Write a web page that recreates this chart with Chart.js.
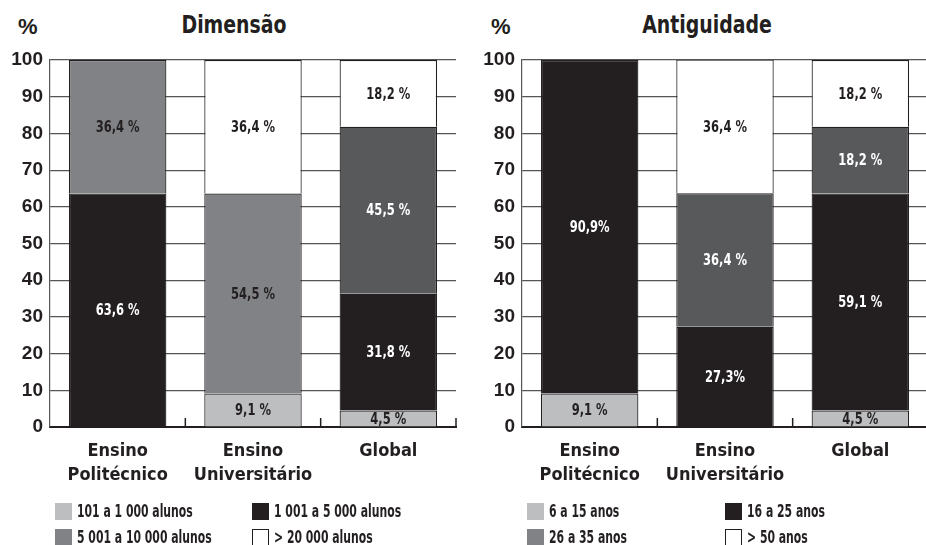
<!DOCTYPE html>
<html lang="pt">
<head>
<meta charset="UTF-8">
<title>Dimensão e Antiguidade</title>
<script src="https://cdn.jsdelivr.net/npm/chart.js"></script>
<style>
    body { margin: 0; width: 926px; height: 545px; overflow: hidden; background: #fff; position: relative; }
    canvas { position: absolute; top: 0; }
    .txt { position: absolute; color: #231f20; font-weight: bold; white-space: nowrap; }
    .pct { font-family: 'Liberation Sans', Arial, sans-serif; font-size: 22px; line-height: 22px; top: 16px; }
    .title { font-family: 'DejaVu Sans Condensed', sans-serif; font-size: 25px; line-height: 25px; top: 12px; transform: translateX(-50%) scaleX(0.84); }
    .leg { position: absolute; font-family: 'DejaVu Sans Condensed', sans-serif; font-weight: bold; font-size: 17px; line-height: 17px; color: #231f20; white-space: nowrap; }
    .leg span.box { display: inline-block; width: 17px; height: 17px; box-sizing: border-box; vertical-align: top; margin-right: 5px; }
    .leg span.lbl { display: inline-block; vertical-align: top; transform: scaleX(0.71); transform-origin: left center; }
</style>
</head>
<body>
<div class="txt pct" style="left:18px">%</div>
<div class="txt title" style="left:234px">Dimensão</div>
<div class="txt pct" style="left:491px">%</div>
<div class="txt title" style="left:707px">Antiguidade</div>

<canvas id="dimChart" width="463" height="545" style="left:0;width:463px;height:545px"></canvas>
<canvas id="antChart" width="463" height="545" style="left:472px;width:463px;height:545px"></canvas>
<div id="dimLegend"></div>
<div id="antLegend"></div>

<script>
    // categories
    const categories = [['Ensino', 'Politécnico'], ['Ensino', 'Universitário'], 'Global'];
    const yTicks = [0, 10, 20, 30, 40, 50, 60, 70, 80, 90, 100];

    // Dimensão (% of institutions), bottom to top
    const dimSeries = ['101 a 1 000 alunos', '1 001 a 5 000 alunos', '5 001 a 10 000 alunos', '> 20 000 alunos'];
    const dimSmall = [null, 9.1, 4.5];
    const dimMedium = [63.6, null, 31.8];
    const dimLarge = [36.4, 54.5, 45.5];
    const dimHuge = [null, 36.4, 18.2];

    // Antiguidade (% of institutions), bottom to top
    const antSeries = ['6 a 15 anos', '16 a 25 anos', '26 a 35 anos', '> 50 anos'];
    const ant6to15 = [9.1, null, 4.5];
    const ant16to25 = [90.9, 27.3, 59.1];
    const ant26to35 = [null, 36.4, 18.2];
    const antOver50 = [null, 36.4, 18.2];

    const LIGHT = '#bcbec0', BLACK = '#231f20', MID = '#808285', DARK = '#58595b', WHITE = '#ffffff';
    const CONDENSED = "'DejaVu Sans Condensed', sans-serif";

    function fmt(v, tight) {
        return v.toFixed(1).replace('.', ',') + (tight ? '%' : ' %');
    }

    // value labels inside each bar segment (squeezed to look condensed)
    const segmentLabels = {
        id: 'segmentLabels',
        afterDatasetsDraw(chart) {
            const ctx = chart.ctx;
            chart.data.datasets.forEach((ds, di) => {
                chart.getDatasetMeta(di).data.forEach((bar, i) => {
                    const v = ds.data[i];
                    if (v == null) return;
                    const bg = Array.isArray(ds.backgroundColor) ? ds.backgroundColor[i] : ds.backgroundColor;
                    const tight = ds.tight ? ds.tight[i] : false;
                    ctx.save();
                    ctx.font = 'bold 16px ' + CONDENSED;
                    ctx.textAlign = 'center';
                    ctx.textBaseline = 'middle';
                    ctx.fillStyle = (bg === BLACK || bg === DARK) ? '#ffffff' : BLACK;
                    ctx.translate(bar.x, (bar.y + bar.base) / 2 + 1);
                    ctx.scale(0.8, 1);
                    ctx.fillText(fmt(v, tight), 0, 0);
                    ctx.restore();
                });
            });
        }
    };

    // short upright ticks on the base line between categories
    const baseTicks = {
        id: 'baseTicks',
        afterDraw(chart) {
            const x = chart.scales.x, area = chart.chartArea, ctx = chart.ctx;
            ctx.save();
            ctx.strokeStyle = BLACK;
            ctx.lineWidth = 1.5;
            for (let i = 1; i <= categories.length; i++) {
                const px = i < categories.length ? (x.getPixelForValue(i - 1) + x.getPixelForValue(i)) / 2 : area.right;
                ctx.beginPath();
                ctx.moveTo(px, area.bottom);
                ctx.lineTo(px, area.bottom - 9);
                ctx.stroke();
            }
            ctx.restore();
        }
    };

    function makeChart(id, series, values, colors, tight) {
        const datasets = series.map((label, k) => ({
            label: label,
            data: values[k],
            backgroundColor: colors[k],
            borderColor: BLACK,
            borderWidth: 1.2,
            barPercentage: 0.72,
            categoryPercentage: 1.0,
            tight: tight[k]
        }));
        return new Chart(document.getElementById(id), {
            type: 'bar',
            data: { labels: categories, datasets: datasets },
            plugins: [segmentLabels, baseTicks],
            options: {
                responsive: false,
                animation: false,
                layout: { padding: { top: 60, right: 7, left: 0, bottom: 0 } },
                plugins: { legend: { display: false }, tooltip: { enabled: false } },
                scales: {
                    x: {
                        stacked: true,
                        offset: true,
                        grid: { display: false },
                        border: { display: true, color: BLACK, width: 2 },
                        ticks: {
                            color: BLACK,
                            padding: 4,
                            maxRotation: 0,
                            font: { family: CONDENSED, size: 18, weight: 'bold', lineHeight: 1.33 }
                        },
                        afterFit(scale) { scale.height = 118; }
                    },
                    y: {
                        stacked: true,
                        min: 0,
                        max: 100,
                        afterBuildTicks(scale) { scale.ticks = yTicks.map(v => ({ value: v })); },
                        grid: { color: '#555', lineWidth: 1.2, drawTicks: false },
                        border: { display: true, color: '#555', width: 1.2 },
                        ticks: {
                            color: BLACK,
                            padding: 7,
                            font: { family: "'Liberation Sans', Arial, sans-serif", size: 19, weight: 'bold' }
                        },
                        afterFit(scale) { scale.width = 50; }
                    }
                }
            }
        });
    }

    function makeLegend(id, series, colors, left, cols) {
        const box = document.getElementById(id);
        series.forEach((label, k) => {
            const c = colors[k];
            const item = document.createElement('div');
            item.className = 'leg';
            item.style.left = (left + cols[k % 2]) + 'px';
            item.style.top = (k < 2 ? 503 : 529) + 'px';
            const sq = document.createElement('span');
            sq.className = 'box';
            sq.style.background = c;
            if (c === WHITE) sq.style.border = '1px solid ' + BLACK;
            const txt = document.createElement('span');
            txt.className = 'lbl';
            txt.textContent = label;
            item.appendChild(sq);
            item.appendChild(txt);
            box.appendChild(item);
        });
    }

    const dimColors = [LIGHT, BLACK, [MID, MID, DARK], WHITE];
    const antColors = [LIGHT, BLACK, [DARK, DARK, DARK], WHITE];

    makeChart('dimChart', dimSeries, [dimSmall, dimMedium, dimLarge, dimHuge], dimColors,
        [null, null, null, null]);
    makeChart('antChart', antSeries, [ant6to15, ant16to25, ant26to35, antOver50], antColors,
        [null, [true, true, false], null, null]);

    makeLegend('dimLegend', dimSeries, [LIGHT, BLACK, MID, WHITE], 55, [0, 197]);
    makeLegend('antLegend', antSeries, [LIGHT, BLACK, MID, WHITE], 527, [0, 198]);
</script>
</body>
</html>
